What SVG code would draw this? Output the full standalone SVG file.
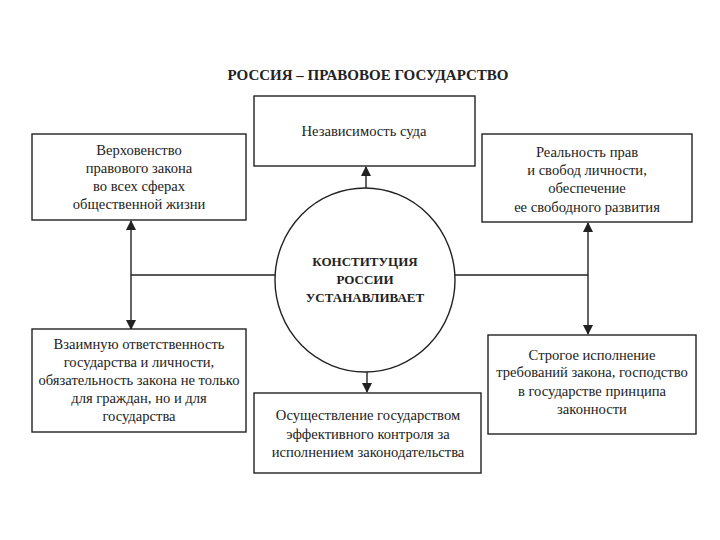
<svg xmlns="http://www.w3.org/2000/svg" width="720" height="540" viewBox="0 0 720 540">
<defs>
<style>
.box{fill:#fff;stroke:#222;stroke-width:1.4}
.t{font-family:"Liberation Serif","Times New Roman",serif;font-size:14.6px;fill:#222;text-anchor:middle}
.b{font-family:"Liberation Serif","Times New Roman",serif;font-size:13px;font-weight:bold;fill:#222;text-anchor:middle}
.ln{fill:none;stroke:#222;stroke-width:1.4}
</style>
<marker id="ah" viewBox="0 0 10 10" refX="9" refY="5" markerWidth="10" markerHeight="10" markerUnits="userSpaceOnUse" orient="auto-start-reverse">
<path d="M0,0 L10,5 L0,10 Z" fill="#222"/>
</marker>
</defs>
<rect width="720" height="540" fill="#fff"/>
<text x="368" y="80" class="b" style="font-size:15px">РОССИЯ – ПРАВОВОЕ ГОСУДАРСТВО</text>
<g id="connectors">
<line class="ln" x1="366" y1="188" x2="366" y2="167" marker-end="url(#ah)"/>
<line class="ln" x1="367" y1="372" x2="367" y2="392" marker-end="url(#ah)"/>
<line class="ln" x1="131" y1="275" x2="275" y2="275"/>
<line class="ln" x1="455" y1="275" x2="588" y2="275"/>
<line class="ln" x1="131" y1="221" x2="131" y2="329" marker-start="url(#ah)" marker-end="url(#ah)"/>
<line class="ln" x1="588" y1="223" x2="588" y2="334" marker-start="url(#ah)" marker-end="url(#ah)"/>
</g>
<g id="center">
<ellipse class="box" cx="365" cy="280" rx="90" ry="92"/>
<text class="b" x="365" y="266">КОНСТИТУЦИЯ</text>
<text class="b" x="365" y="284">РОССИИ</text>
<text class="b" x="365" y="302">УСТАНАВЛИВАЕТ</text>
</g>
<g id="top">
<rect class="box" x="254" y="96" width="221" height="70"/>
<text class="t" x="364" y="136">Независимость суда</text>
</g>
<g id="top-left">
<rect class="box" x="32" y="134" width="214" height="86"/>
<text class="t" x="139" y="155">Верховенство</text>
<text class="t" x="139" y="173">правового закона</text>
<text class="t" x="139" y="191">во всех сферах</text>
<text class="t" x="139" y="209">общественной жизни</text>
</g>
<g id="top-right">
<rect class="box" x="482" y="134" width="210" height="88"/>
<text class="t" x="587" y="157">Реальность прав</text>
<text class="t" x="587" y="175">и свобод личности,</text>
<text class="t" x="587" y="193">обеспечение</text>
<text class="t" x="587" y="212">ее свободного развития</text>
</g>
<g id="bottom-left">
<rect class="box" x="32" y="329" width="214" height="103"/>
<text class="t" x="139" y="349">Взаимную ответственность</text>
<text class="t" x="139" y="367">государства и личности,</text>
<text class="t" x="139" y="385">обязательность закона не только</text>
<text class="t" x="139" y="403">для граждан, но и для</text>
<text class="t" x="139" y="421">государства</text>
</g>
<g id="bottom-right">
<rect class="box" x="488" y="335" width="208" height="99"/>
<text class="t" x="592" y="360">Строгое исполнение</text>
<text class="t" x="592" y="377">требований закона, господство</text>
<text class="t" x="592" y="396">в государстве принципа</text>
<text class="t" x="592" y="414">законности</text>
</g>
<g id="bottom">
<rect class="box" x="254" y="393" width="227" height="80"/>
<text class="t" x="368" y="420">Осуществление государством</text>
<text class="t" x="368" y="439">эффективного контроля за</text>
<text class="t" x="368" y="457">исполнением законодательства</text>
</g>
</svg>
